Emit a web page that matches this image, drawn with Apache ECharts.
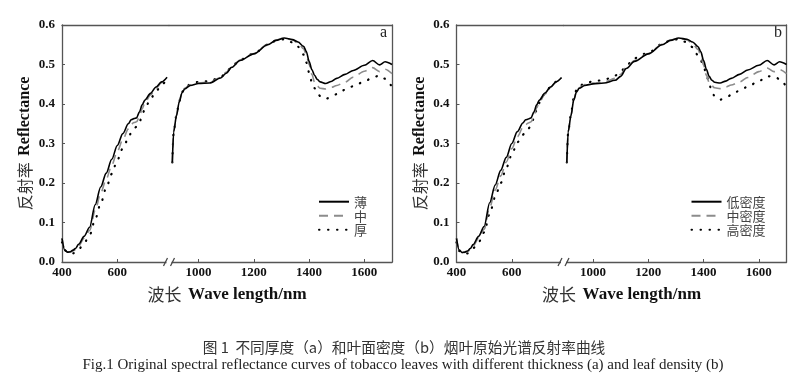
<!DOCTYPE html>
<html><head><meta charset="utf-8">
<script src="https://cdn.jsdelivr.net/npm/echarts@6/dist/echarts.min.js"></script>
<style>html,body{margin:0;padding:0;background:#fff}#c{width:800px;height:381px}</style>
</head><body><div id="c"></div>
<script>
// ---- data ----
const wlVis = [400,410,420,430,440,450,460,480,500,520,540,560,580,600,620,640,650,660,670,680,690,700,720,740,760,780];
const wlNir = [905,910,920,930,940,950,970,1000,1040,1080,1100,1120,1150,1200,1250,1280,1310,1340,1360,1380,1390,1400,1410,1420,1430,1440,1460,1480,1500,1530,1560,1600,1630,1655,1675,1700];

// panel a: thickness
const thinVis  = [0.06,0.03,0.025,0.026,0.03,0.035,0.045,0.065,0.088,0.145,0.19,0.225,0.26,0.295,0.325,0.35,0.36,0.363,0.365,0.38,0.398,0.41,0.427,0.443,0.456,0.468];
const midVis   = [0.06,0.03,0.025,0.025,0.028,0.032,0.04,0.06,0.08,0.13,0.175,0.21,0.245,0.28,0.31,0.337,0.348,0.353,0.355,0.368,0.388,0.403,0.423,0.44,0.454,0.466];
const thickVis = [0.05,0.03,0.024,0.022,0.022,0.026,0.032,0.048,0.068,0.108,0.148,0.188,0.223,0.258,0.288,0.313,0.327,0.337,0.343,0.353,0.372,0.388,0.413,0.432,0.449,0.462];
const thinNir  = [0.252,0.33,0.37,0.405,0.428,0.438,0.447,0.452,0.453,0.466,0.478,0.493,0.51,0.527,0.55,0.561,0.567,0.563,0.557,0.546,0.533,0.508,0.487,0.472,0.462,0.456,0.452,0.457,0.465,0.475,0.485,0.498,0.51,0.499,0.507,0.5];
const midNir   = [0.252,0.33,0.372,0.407,0.43,0.44,0.448,0.453,0.455,0.467,0.48,0.494,0.511,0.528,0.551,0.562,0.567,0.562,0.554,0.54,0.525,0.5,0.475,0.455,0.445,0.44,0.438,0.442,0.447,0.455,0.468,0.483,0.492,0.482,0.488,0.477];
const thickNir = [0.252,0.33,0.372,0.407,0.43,0.44,0.45,0.456,0.458,0.468,0.48,0.495,0.512,0.528,0.55,0.56,0.564,0.556,0.545,0.525,0.505,0.48,0.455,0.44,0.428,0.42,0.413,0.418,0.425,0.436,0.445,0.457,0.467,0.472,0.464,0.443];

// panel b: leaf density
const lowVis   = [0.06,0.03,0.024,0.025,0.028,0.034,0.044,0.065,0.09,0.15,0.195,0.232,0.265,0.3,0.33,0.352,0.36,0.362,0.365,0.38,0.398,0.41,0.428,0.443,0.456,0.467];
const medVis   = [0.06,0.03,0.024,0.024,0.027,0.031,0.04,0.06,0.083,0.138,0.182,0.218,0.253,0.287,0.317,0.34,0.348,0.352,0.355,0.37,0.39,0.405,0.425,0.442,0.455,0.466];
const highVis  = [0.05,0.028,0.022,0.021,0.022,0.027,0.035,0.05,0.075,0.122,0.165,0.2,0.238,0.272,0.303,0.322,0.332,0.338,0.345,0.365,0.385,0.403,0.427,0.443,0.456,0.466];
const lowNir   = [0.252,0.33,0.37,0.41,0.43,0.44,0.447,0.451,0.453,0.46,0.47,0.49,0.508,0.527,0.55,0.561,0.567,0.564,0.557,0.545,0.532,0.51,0.488,0.47,0.46,0.455,0.453,0.458,0.465,0.475,0.486,0.498,0.51,0.499,0.507,0.5];
const medNir   = [0.252,0.33,0.372,0.41,0.431,0.441,0.449,0.453,0.456,0.465,0.475,0.492,0.51,0.528,0.551,0.562,0.567,0.562,0.553,0.538,0.522,0.498,0.473,0.455,0.446,0.441,0.439,0.443,0.448,0.456,0.467,0.482,0.491,0.482,0.487,0.477];
const highNir  = [0.252,0.33,0.375,0.415,0.435,0.445,0.453,0.457,0.461,0.472,0.482,0.497,0.516,0.53,0.552,0.561,0.564,0.556,0.544,0.523,0.51,0.495,0.475,0.452,0.43,0.42,0.411,0.416,0.423,0.434,0.444,0.458,0.47,0.47,0.463,0.443];

const namesA = ['薄','中','厚'];
const namesB = ['低密度','中密度','高密度'];
const xTicksVis = [400,600];
const xTicksNir = [1000,1200,1400,1600];
const xRangeVis = [400,787];
const xRangeNir = [893,1700];
const yTicks = [0,0.1,0.2,0.3,0.4,0.5,0.6];

// ---- build ----
const panels = [
  {x0:62,  names:namesA, vis:[thinVis,midVis,thickVis], nir:[thinNir,midNir,thickNir], tag:'a'},
  {x0:456.5, names:namesB, vis:[lowVis,medVis,highVis], nir:[lowNir,medNir,highNir], tag:'b'}
];
const TOP=25, H=237, WV=107, WN=223;
const AX='#555';
const styles = [
  {color:'#000', width:1.6, type:'solid'},
  {color:'#8c8c8c', width:1.6, type:[9,6]},
  {color:'#000', width:2.2, type:[0.5,8.5], cap:'round'}
];
const grid=[], xAxis=[], yAxis=[], series=[], legend=[], graphic=[];
const lblStyle = {fontFamily:'Liberation Serif', fontWeight:'bold', fontSize:13, color:'#111'};

panels.forEach((p, pi) => {
  const gV = grid.length;
  grid.push({left:p.x0, top:TOP, width:WV, height:H});
  grid.push({left:p.x0+WV, top:TOP, width:WN, height:H});
  [[gV, xRangeVis, xTicksVis, wlVis, p.vis], [gV+1, xRangeNir, xTicksNir, wlNir, p.nir]].forEach(([gi, rng, ticks, wl, sets]) => {
    const xb = xAxis.length;
    xAxis.push({type:'value', gridIndex:gi, position:'bottom', min:rng[0], max:rng[1],
      axisLine:{show:true, lineStyle:{color:AX, width:1.3}},
      axisTick:{show:true, inside:true, length:3, customValues:ticks, lineStyle:{color:AX, width:1}},
      axisLabel:{show:true, customValues:ticks, margin:4, formatter:v=>String(v), ...lblStyle},
      splitLine:{show:false}});
    xAxis.push({type:'value', gridIndex:gi, position:'top', min:rng[0], max:rng[1],
      axisLine:{show:true, lineStyle:{color:AX, width:1.3}},
      axisTick:{show:false}, axisLabel:{show:false}, splitLine:{show:false}});
    const isLeft = gi === gV;
    const ya = {type:'value', gridIndex:gi, min:0, max:0.6, interval:0.1,
      position: isLeft ? 'left' : 'right',
      axisLine:{show:true, lineStyle:{color:AX, width:1.3}},
      axisTick:{show:isLeft, inside:true, length:3, lineStyle:{color:AX, width:1}},
      axisLabel:{show:isLeft, margin:7, formatter:v=>v.toFixed(1), ...lblStyle},
      splitLine:{show:false}};
    if (isLeft) {
      ya.name = '{cn|反射率}  {en|Reflectance}';
      ya.nameLocation = 'middle';
      ya.nameGap = 29;
      ya.nameRotate = 90;
      ya.nameTextStyle = {rich:{
        cn:{fontFamily:'Noto Sans CJK SC', fontSize:16, color:'#333'},
        en:{fontFamily:'Liberation Serif', fontWeight:'bold', fontSize:16, color:'#111'}}};
    }
    yAxis.push(ya);
    const yi = yAxis.length-1;
    sets.forEach((vals, k) => {
      series.push({type:'line', name:p.names[k], xAxisIndex:xb, yAxisIndex:yi,
        data: wl.map((w,i)=>[w, vals[i]]), symbol:'none', showSymbol:false,
        smooth:0.3, smoothMonotone:'x', silent:true, z: 3-k,
        color: styles[k].color, itemStyle:{color:styles[k].color},
        lineStyle:{...styles[k]}});
    });
  });
  legend.push({data:p.names, orient:'vertical', left:p.x0 + (pi===0 ? 256 : 234), top:194.7, padding:0,
    itemWidth:30, itemHeight:14, itemGap:0, selectedMode:false,
    itemStyle:{opacity:0},
    textStyle:{fontFamily:'Noto Sans CJK SC', fontSize:13, color:'#444', lineHeight:14}});
  const bx = p.x0 + WV;
  graphic.push({type:'rect', shape:{x:bx-2.5, y:TOP+H-3, width:5, height:6}, style:{fill:'#fff'}, z:100});
  graphic.push({type:'line', shape:{x1:bx-5.5, y1:TOP+H+4, x2:bx-1.5, y2:TOP+H-4}, style:{stroke:'#444', lineWidth:1.2}, z:101});
  graphic.push({type:'line', shape:{x1:bx+1.5, y1:TOP+H+4, x2:bx+5.5, y2:TOP+H-4}, style:{stroke:'#444', lineWidth:1.2}, z:101});
  graphic.push({type:'text', x:p.x0+165, y:295, style:{text:'{cn|波长}  {en|Wave length/nm}', align:'center', verticalAlign:'middle',
    rich:{cn:{fontFamily:'Noto Sans CJK SC', fontSize:17, fill:'#333'}, en:{fontFamily:'Liberation Serif', fontWeight:'bold', fontSize:17, fill:'#111'}}}});
  graphic.push({type:'text', x:p.x0+321.5, y:33, style:{text:p.tag, align:'center', verticalAlign:'middle',
    fontFamily:'Liberation Serif', fontSize:16, fill:'#222'}});
});
graphic.push({type:'text', x:404, y:347, style:{text:'图 1  不同厚度（a）和叶面密度（b）烟叶原始光谱反射率曲线', align:'center', verticalAlign:'middle',
  fontFamily:'Noto Sans CJK SC', fontSize:14.7, fill:'#333'}});
graphic.push({type:'text', x:403, y:365, style:{text:'Fig.1 Original spectral reflectance curves of tobacco leaves with different thickness (a) and leaf density (b)', align:'center', verticalAlign:'middle',
  fontFamily:'Liberation Serif', fontSize:15, fill:'#222'}});

const chart = echarts.init(document.getElementById('c'), null, {renderer:'canvas'});
chart.setOption({animation:false, backgroundColor:'#fff', grid, xAxis, yAxis, series, legend, graphic});
</script></body></html>
